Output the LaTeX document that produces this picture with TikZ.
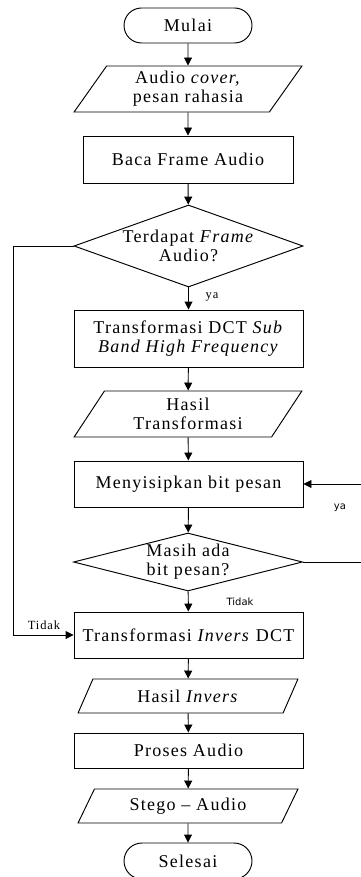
\documentclass[tikz,border=0pt]{standalone}
\usepackage{fontspec}
\setmainfont{Liberation Serif}[LetterSpace=7]
\newfontfamily\labelsans{DejaVu Sans}
\usetikzlibrary{shapes.geometric,shapes.misc,arrows.meta}

\tikzset{
    base/.style={draw, line width=0.95pt, align=center, inner sep=0pt,
        font=\fontsize{18}{19}\selectfont},
    terminal/.style={base, rounded rectangle, minimum width=128pt, minimum height=35pt},
    proses/.style={base, rectangle, minimum width=229pt, minimum height=46pt},
    io/.style={base, trapezium, trapezium left angle=58, trapezium right angle=122,
        trapezium stretches=true, minimum width=228pt, minimum height=46pt},
    keputusan/.style={base, diamond, minimum width=229pt},
    panah/.style={line width=0.95pt, -{Triangle[length=8pt,width=8pt]}},
    ket/.style={font=\fontsize{12.5}{13}\selectfont},
    ketsans/.style={font=\labelsans\fontsize{10}{11}\selectfont},
}

\begin{document}
\begin{tikzpicture}[x=1pt, y=1pt]
    \useasboundingbox (0,0) rectangle (360,-877);

    % Blok alur
    \node[terminal] (mulai) at (188,-25.5) {Mulai};
    \node[io] (masukan) at (188,-89) {Audio \textit{cover,}\\pesan rahasia};
    \node[proses, minimum width=210pt, minimum height=47pt] (baca) at (188,-159.5) {Baca Frame Audio};
    \node[keputusan, aspect=2.8, minimum height=82pt] (adaframe) at (188.5,-246) {Terdapat \textit{Frame}\\Audio?};
    \node[proses, minimum height=57pt] (dct) at (188.5,-338.5) {Transformasi DCT \textit{Sub}\\\textit{Band High Frequency}};
    \node[io] (hasiltrans) at (188,-414) {Hasil\\Transformasi};
    \node[proses] (sisip) at (188.5,-484) {Menyisipkan bit pesan};
    \node[keputusan, aspect=4, minimum height=58pt] (masihbit) at (188,-562) {Masih ada\\bit pesan?};
    \node[proses] (invers) at (188.5,-635) {Transformasi \textit{Invers} DCT};
    \node[io, minimum width=220pt, minimum height=34pt] (hasilinv) at (188,-696) {Hasil \textit{Invers}};
    \node[proses, minimum height=35pt] (prosesaudio) at (188.5,-750.5) {Proses Audio};
    \node[io, minimum width=220pt, minimum height=34pt] (stego) at (188,-806) {Stego -- Audio};
    \node[terminal, minimum height=36pt] (selesai) at (188,-861) {Selesai};

    % Panah utama
    \draw[panah] (mulai) -- (masukan);
    \draw[panah] (masukan) -- (baca);
    \draw[panah] (baca) -- (adaframe);
    \draw[panah] (adaframe) -- (dct);
    \draw[panah] (dct) -- (hasiltrans);
    \draw[panah] (hasiltrans) -- (sisip);
    \draw[panah] (sisip) -- (masihbit);
    \draw[panah] (masihbit) -- (invers);
    \draw[panah] (invers) -- (hasilinv);
    \draw[panah] (hasilinv) -- (prosesaudio);
    \draw[panah] (prosesaudio) -- (stego);
    \draw[panah] (stego) -- (selesai);

    % Cabang
    \coordinate (kiri) at (13,-246);
    \coordinate (kanan) at (364,-562);
    \draw[panah] (adaframe.west) -- (kiri) |- (invers.west);
    \draw[panah] (masihbit.east) -- (kanan) |- (sisip.east);

    % Keterangan
    \node[ket] (ya1) at (212,-297) {ya};
    \node[ket] (tidak1) at (44,-625) {Tidak};
    \node[ketsans] (ya2) at (340,-508) {ya};
    \node[ketsans] (tidak2) at (240,-602) {Tidak};
\end{tikzpicture}
\end{document}
